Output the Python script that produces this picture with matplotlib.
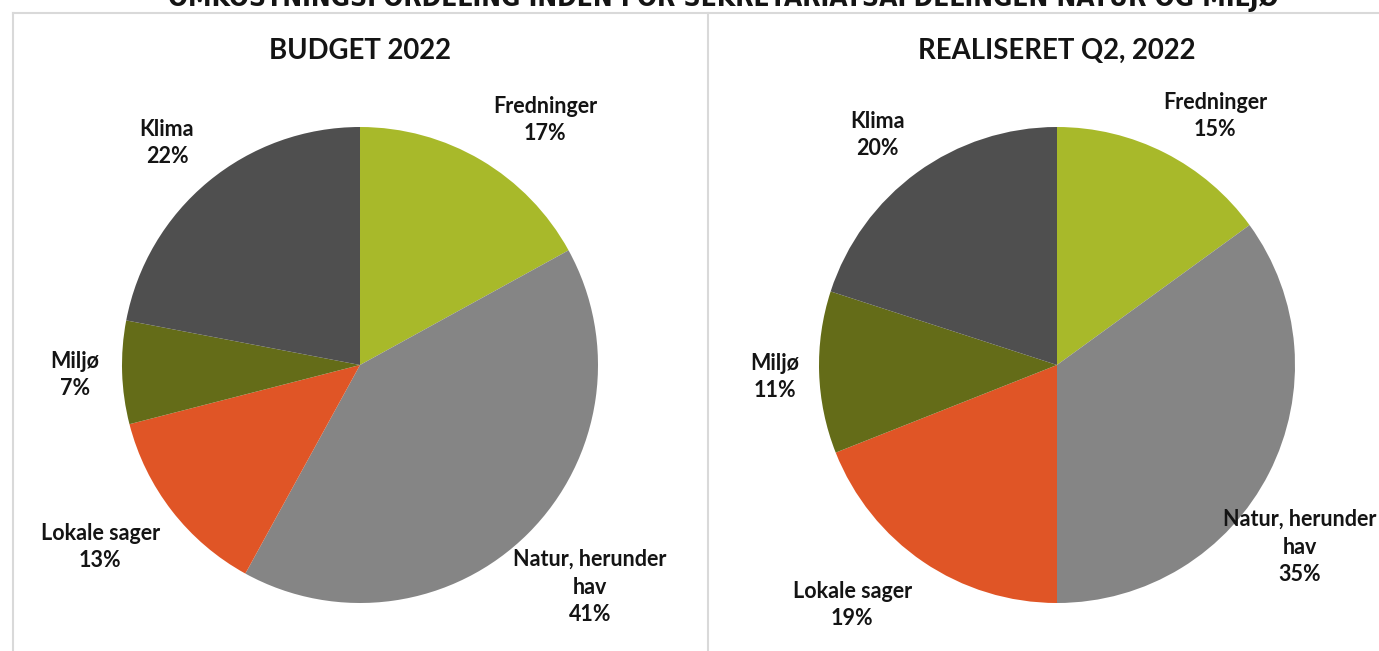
import numpy as np
import matplotlib.pyplot as plt
from matplotlib.lines import Line2D

plt.rcParams['font.family'] = ['Lato', 'DejaVu Sans']

W, H = 1379, 651

categories = ['Fredninger', 'Natur, herunder\nhav', 'Lokale sager', 'Miljø', 'Klima']
budget_2022 = [17, 41, 13, 7, 22]
realiseret_q2 = [15, 35, 19, 11, 20]
colors = ['#A8B92A', '#858585', '#E05526', '#646C18', '#4F4F4F']

main_title = 'OMKOSTNINGSFORDELING INDEN FOR SEKRETARIATSAFDELINGEN NATUR OG MILJØ'
panel_titles = ['BUDGET 2022', 'REALISERET Q2, 2022']

# pie centres and radius in pixels
centres = [(360, 365), (1057, 365)]
radius_px = 238
half = 1.45  # axes half-span in data units (1 unit = radius)
# label centres relative to the pie centre, in radii (Excel's outside-end placement)
label_pos = [[(0.777, 1.029), (0.966, -0.933), (-1.092, -0.765), (-1.197, -0.042), (-0.811, 0.933)],
             [(0.664, 1.046), (1.021, -0.765), (-0.861, -1.008), (-1.185, -0.050), (-0.756, 0.966)]]

fig = plt.figure(figsize=(W / 100, H / 100), dpi=100)

for k, (vals, (cx, cy)) in enumerate(zip([budget_2022, realiseret_q2], centres)):
    size = 2 * half * radius_px
    ax = fig.add_axes([(cx - size / 2) / W, (H - cy - size / 2) / H, size / W, size / H])
    wedges, _ = ax.pie(vals, colors=colors, startangle=90, counterclock=False,
                       radius=1.0, wedgeprops=dict(linewidth=0))
    for i, w in enumerate(wedges):
        lx, ly = label_pos[k][i]
        ax.text(lx, ly, f'{categories[i]}\n{vals[i]}%',
                ha='center', va='center', fontsize=15.5, fontweight='bold',
                color='#141414', linespacing=1.38)
    ax.set_xlim(-half, half)
    ax.set_ylim(-half, half)
    ax.set_aspect('equal')
    ax.axis('off')
    fig.text(cx / W, 1 - 51 / H, panel_titles[k], ha='center', va='center',
             fontsize=19.8, fontweight='bold', color='#141414')

# frame lines
grey = '#D9D9D9'
fig.add_artist(Line2D([13 / W, 1], [1 - 13 / H, 1 - 13 / H], color=grey, lw=1.5))
fig.add_artist(Line2D([13 / W, 13 / W], [0, 1 - 13 / H], color=grey, lw=1.5))
fig.add_artist(Line2D([707.5 / W, 707.5 / W], [0, 1 - 13 / H], color=grey, lw=1.5))

# main title, cut off at the top edge
fig.text(723 / W, 1 - 6 / H, main_title, ha='center', va='baseline',
         fontsize=19, fontweight='bold', color='#141414',
         family=['DejaVu Sans'], fontstretch='condensed')

fig.savefig('out.png', dpi=100)
